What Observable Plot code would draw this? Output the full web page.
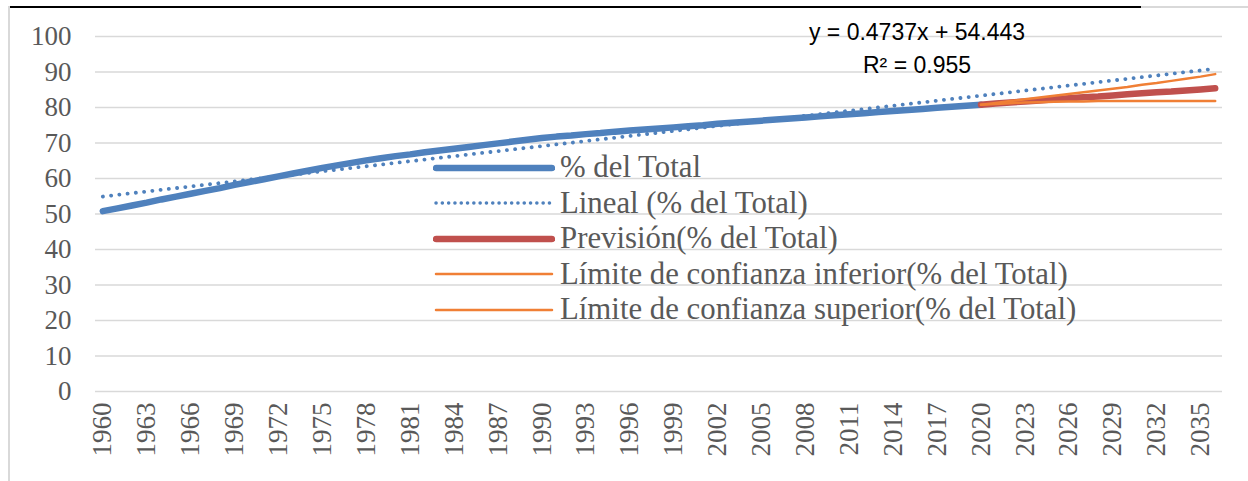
<!DOCTYPE html>
<html>
<head>
<meta charset="utf-8">
<script src="https://cdn.jsdelivr.net/npm/d3@7"></script>
<script src="https://cdn.jsdelivr.net/npm/@observablehq/plot@0.6"></script>
<style>
  html, body { margin: 0; padding: 0; background: #fff; }
  #wrap { position: relative; width: 1248px; height: 481px; overflow: hidden; }
  #wrap svg.mainchart text { font-family: "Liberation Serif", "Times New Roman", serif !important; }
  .legend { position: absolute; left: 433px; top: 150px; font-family: "Liberation Serif", serif; font-size: 30.8px; color: #595959; }
  .legend .row { display: flex; align-items: center; height: 35.5px; white-space: nowrap; }
  .legend svg { margin-right: 5px; flex: none; }
  .eq { position: absolute; font-family: "Liberation Sans", sans-serif; font-size: 23px; color: #000; text-align: center; width: 300px; left: 767px; }
</style>
</head>
<body>
<div id="wrap"></div>
<script>
// Categories (years)
const years = d3.range(1960, 2037);
const tickYears = years.filter(y => (y - 1960) % 3 === 0);

// Historical series: % del Total (1960–2020)
const histYears = d3.range(1960, 2021);
const histValues = [
  50.8, 51.6, 52.4, 53.2, 54.1, 54.9, 55.7, 56.5, 57.3, 58.2,
  59.0, 59.8, 60.6, 61.4, 62.2, 63.0, 63.7, 64.4, 65.1, 65.7,
  66.3, 66.8, 67.4, 67.9, 68.4, 68.9, 69.4, 69.9, 70.4, 70.9,
  71.4, 71.8, 72.1, 72.5, 72.8, 73.2, 73.5, 73.8, 74.1, 74.4,
  74.7, 75.0, 75.4, 75.7, 76.0, 76.3, 76.6, 76.9, 77.2, 77.5,
  77.8, 78.1, 78.4, 78.7, 79.0, 79.3, 79.6, 79.9, 80.2, 80.5,
  80.8
];

// Forecast (2020–2036)
const fcYears = d3.range(2020, 2037);
const forecast = [80.8, 81.1, 81.4, 81.7, 82.0, 82.3, 82.6, 82.9, 83.1, 83.4, 83.7, 84.0, 84.3, 84.5, 84.8, 85.1, 85.4];
const upperCI  = [80.8, 81.3, 81.8, 82.3, 82.8, 83.3, 83.8, 84.3, 84.8, 85.3, 85.8, 86.4, 86.9, 87.5, 88.1, 88.7, 89.4];
const lowerCI  = [80.8, 81.0, 81.2, 81.4, 81.5, 81.6, 81.7, 81.7, 81.8, 81.8, 81.8, 81.8, 81.8, 81.8, 81.8, 81.8, 81.8];

// Linear trend line endpoints (y = 0.4737x + 54.443)
const trendYears = [1960, 2036];
const trendValues = [54.92, 90.92];

const yTicks = d3.range(0, 101, 10);

const colBlue = "#4F81BD", colRed = "#C0504D", colOrange = "#F07F35";

const hist = histYears.map((y, i) => ({year: y, v: histValues[i]}));
const fc = fcYears.map((y, i) => ({year: y, v: forecast[i]}));
const up = fcYears.map((y, i) => ({year: y, v: upperCI[i]}));
const lo = fcYears.map((y, i) => ({year: y, v: lowerCI[i]}));
const tr = trendYears.map((y, i) => ({year: y, v: trendValues[i]}));

const chart = Plot.plot({
  width: 1248,
  height: 481,
  marginLeft: 95,
  marginRight: 26,
  marginTop: 36,
  marginBottom: 90,
  style: {background: "transparent"},
  x: {type: "point", domain: years, padding: 0.5, label: null},
  y: {domain: [0, 100], label: null},
  marks: [
    Plot.gridY(yTicks, {stroke: "#D9D9D9", strokeOpacity: 1, strokeWidth: 1.5}),
    Plot.axisY({ticks: yTicks, tickSize: 0, tickPadding: 24, fill: "#595959", fontSize: 27, label: null}),
    Plot.axisX({ticks: tickYears, tickFormat: d => String(d), tickSize: 0, tickPadding: 11, tickRotate: -90, fill: "#595959", fontSize: 27, label: null}),
    Plot.line(hist, {x: "year", y: "v", stroke: colBlue, strokeWidth: 6.5, strokeLinecap: "round", strokeLinejoin: "round"}),
    Plot.line(fc, {x: "year", y: "v", stroke: colRed, strokeWidth: 6.5, strokeLinecap: "round", strokeLinejoin: "round"}),
    Plot.line(lo, {x: "year", y: "v", stroke: colOrange, strokeWidth: 2.5}),
    Plot.line(up, {x: "year", y: "v", stroke: colOrange, strokeWidth: 2.5}),
    Plot.line(tr, {x: "year", y: "v", stroke: colBlue, strokeWidth: 3.8, strokeDasharray: "0.1 8.2", strokeLinecap: "round"})
  ]
});
chart.classList.add("mainchart");

const wrap = document.getElementById("wrap");
wrap.appendChild(chart);

// Chart border remnants
function addLine(style) {
  const d = document.createElement("div");
  d.style.position = "absolute";
  Object.assign(d.style, style);
  wrap.appendChild(d);
}
addLine({left: "8px", top: "6px", width: "1133px", height: "1.5px", background: "#000"});
addLine({left: "1141px", top: "6px", width: "107px", height: "1.5px", background: "#D9D9D9"});
addLine({left: "8px", top: "6px", width: "1.5px", height: "475px", background: "#D9D9D9"});

// Trend equation
const eq1 = document.createElement("div");
eq1.className = "eq"; eq1.style.top = "19px"; eq1.textContent = "y = 0.4737x + 54.443";
const eq2 = document.createElement("div");
eq2.className = "eq"; eq2.style.top = "52px"; eq2.innerHTML = "R² = 0.955";
wrap.appendChild(eq1); wrap.appendChild(eq2);

// Legend
const legendItems = [
  {label: "% del Total", color: colBlue, width: 6.5, dash: null},
  {label: "Lineal (% del Total)", color: colBlue, width: 3.5, dash: "0.1 6.2"},
  {label: "Previsión(% del Total)", color: colRed, width: 6.5, dash: null},
  {label: "Límite de confianza inferior(% del Total)", color: colOrange, width: 2.5, dash: null},
  {label: "Límite de confianza superior(% del Total)", color: colOrange, width: 2.5, dash: null}
];
const leg = document.createElement("div");
leg.className = "legend";
for (const it of legendItems) {
  const row = document.createElement("div");
  row.className = "row";
  const s = d3.create("svg").attr("width", 122).attr("height", 12);
  s.append("line").attr("x1", 3).attr("x2", 119).attr("y1", 6).attr("y2", 6)
    .attr("stroke", it.color).attr("stroke-width", it.width)
    .attr("stroke-linecap", "round")
    .attr("stroke-dasharray", it.dash);
  row.appendChild(s.node());
  const t = document.createElement("span");
  t.textContent = it.label;
  row.appendChild(t);
  leg.appendChild(row);
}
wrap.appendChild(leg);
</script>
</body>
</html>
